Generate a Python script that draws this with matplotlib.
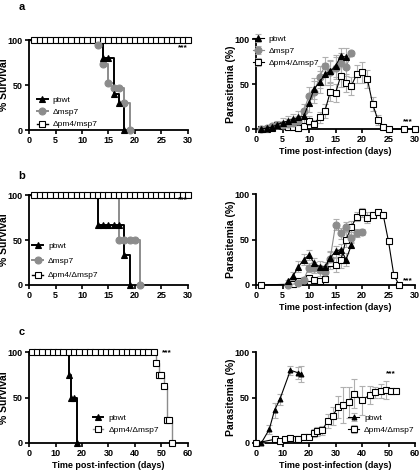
import numpy as np
import matplotlib
matplotlib.use("Agg")
import matplotlib.pyplot as plt

plt.rcParams['font.family'] = ['Liberation Sans', 'DejaVu Sans']
plt.rcParams['font.weight'] = 'bold'
plt.rcParams['axes.labelweight'] = 'bold'

GRAY = '#8c8c8c'
ERR = '#b0b0b0'

# ---- panel a, survival ----
a_pb_t = [0, 14, 16, 17, 18]
a_pb_s = [100, 80, 40, 30, 0]
a_pb_mx = [14, 15, 16, 17, 18]
a_pb_my = [80, 80, 40, 30, 0]
a_ms_t = [0, 13, 14, 15, 16, 18, 19]
a_ms_s = [100, 94, 73, 52, 47, 30, 0]
a_ms_mx = [13, 14, 15, 16, 17, 18, 19]
a_ms_my = [94, 73, 52, 47, 47, 30, 0]
a_dk_mx = list(range(1, 31))
a_dk_my = [100] * 30

# ---- panel a, parasitemia ----
a_pb_d = list(range(1, 18))
a_pb_p = [0, 1, 2, 5, 7, 9, 11, 13, 14, 29, 45, 52, 61, 64, 70, 81, 80]
a_pb_e = [1, 1, 2, 4, 5, 6, 6, 7, 8, 10, 12, 12, 12, 12, 12, 9, 10]
a_ms_d = list(range(1, 19))
a_ms_p = [0, 1, 3, 4, 5, 6, 7, 9, 20, 37, 41, 58, 70, 63, 68, 73, 69, 84]
a_ms_e = [1, 1, 2, 3, 4, 5, 5, 6, 8, 10, 12, 12, 10, 14, 12, 12, 10, 3]
a_dk_d = [1, 2, 3, 4, 5, 6, 7, 8, 9, 10, 11, 12, 13, 14, 15, 16, 17, 18, 19, 20,
          21, 22, 23, 24, 25, 28, 30]
a_dk_p = [0, 0, 1, 5, 3, 2, 2, 1, 3, 9, 6, 13, 20, 41, 40, 59, 51, 48, 61, 63,
          56, 28, 10, 2, 0, 0, 0]
a_dk_e = [0, 1, 1, 3, 3, 2, 2, 2, 3, 5, 4, 6, 8, 10, 10, 12, 10, 10, 10, 12,
          10, 8, 6, 2, 0, 0, 0]

# ---- panel b, survival ----
b_pb_t = [0, 13, 18, 19]
b_pb_s = [100, 67, 33, 0]
b_pb_mx = [13, 14, 15, 16, 17, 18, 19]
b_pb_my = [67, 67, 67, 67, 67, 33, 0]
b_ms_t = [0, 17, 21]
b_ms_s = [100, 50, 0]
b_ms_mx = [17, 18, 19, 20, 21]
b_ms_my = [50, 50, 50, 50, 0]
b_dk_mx = list(range(1, 31))
b_dk_my = [100] * 30

# ---- panel b, parasitemia ----
b_pb_d = [6, 7, 8, 9, 10, 11, 12, 13, 14, 15, 16, 17, 18]
b_pb_p = [4, 10, 20, 28, 33, 24, 20, 20, 30, 37, 39, 28, 44]
b_pb_e = [2, 4, 6, 6, 5, 6, 6, 5, 6, 6, 6, 7, 3]
b_ms_d = [6, 8, 9, 10, 11, 12, 13, 14, 15, 16, 17, 18, 19, 20]
b_ms_p = [0, 2, 6, 19, 19, 16, 14, 29, 66, 57, 64, 52, 57, 58]
b_ms_e = [1, 2, 3, 5, 6, 6, 6, 8, 6, 6, 5, 6, 4, 3]
b_dk_d = [1, 7, 8, 9, 10, 11, 12, 13, 14, 15, 16, 17, 18, 19, 20, 21, 22, 23,
          24, 25, 26, 27]
b_dk_p = [0, 1, 4, 4, 8, 5, 4, 7, 24, 22, 27, 50, 64, 75, 80, 74, 77, 80, 77,
          48, 11, 0]
b_dk_e = [0, 1, 2, 2, 3, 2, 2, 3, 6, 8, 8, 8, 6, 5, 5, 6, 3, 3, 3, 2, 2, 0]

# ---- panel c, survival ----
c_pb_t = [0, 15, 16, 18]
c_pb_s = [100, 75, 50, 0]
c_pb_mx = [15, 16, 17, 18]
c_pb_my = [75, 50, 50, 0]
c_dk_t = [0, 48, 49, 51, 52, 54]
c_dk_s = [100, 88, 75, 63, 25, 0]
c_dk_mx = list(range(1, 48, 2)) + [48, 49, 50, 51, 52, 53, 54]
c_dk_my = [100] * 24 + [88, 75, 75, 63, 25, 25, 0]

# ---- panel c, parasitemia ----
c_pb_d = [2, 5, 7, 9, 13, 16, 17]
c_pb_p = [0, 15, 36, 48, 80, 77, 76]
c_pb_e = [0, 5, 8, 6, 5, 7, 9]
c_dk_d = [0, 7, 9, 11, 13, 15, 16, 18, 20, 22, 23, 25, 27, 29, 31, 33, 35, 37,
          40, 43, 45, 47, 49, 51, 53]
c_dk_p = [0, 4, 2, 4, 6, 4, 4, 7, 7, 11, 13, 14, 24, 30, 40, 42, 45, 54, 47,
          53, 56, 57, 58, 57, 57]
c_dk_e = [0, 1, 1, 2, 2, 2, 2, 3, 3, 4, 5, 5, 8, 10, 12, 20, 17, 16, 16, 10,
          6, 8, 10, 3, 2]


def style_axes(ax, xmax, xstep, ylabel, xlabel=None):
    ax.set_xlim(0, xmax)
    ax.set_ylim(0, 100)
    ax.set_xticks(np.arange(0, xmax + 1, xstep))
    ax.set_yticks([0, 50, 100])
    for s in ['top', 'right']:
        ax.spines[s].set_visible(False)
    for s in ['left', 'bottom']:
        ax.spines[s].set_linewidth(1.3)
    ax.tick_params(direction='out', length=3, width=1.2, labelsize=6.5, pad=1.5)
    for lab in ax.get_xticklabels() + ax.get_yticklabels():
        lab.set_fontweight('bold')
    ax.set_ylabel(ylabel, fontsize=7.5)
    ax.yaxis.set_label_coords(-0.125, 0.5)
    if xlabel:
        ax.set_xlabel(xlabel, fontsize=6.5, labelpad=2)


def surv(ax, t, s, mx, my, color, marker, mfc, label, ms=4.5, lw=1.4):
    mec = 'black' if mfc == 'white' else color
    ax.step(t, s, where='post', color=color, lw=lw, clip_on=False, zorder=2)
    ax.plot(mx, my, ls='none', marker=marker, color=color, mfc=mfc,
            mec=mec, ms=ms, mew=0.8, clip_on=False, zorder=3)
    ax.plot([], [], color=color, lw=lw, marker=marker, mfc=mfc,
            mec=mec, ms=ms, mew=0.8, label=label)


def para(ax, d, p, e, color, marker, mfc, label, ms=4.5):
    mec = 'black' if mfc == 'white' else color
    ax.errorbar(d, p, yerr=e, color=color, lw=0.8, marker=marker,
                mfc=mfc, mec=mec, ms=ms, mew=0.8, ecolor=ERR,
                elinewidth=0.8, capsize=2, capthick=0.8,
                clip_on=False, label=label, zorder=3)


fig = plt.figure(figsize=(4.2, 4.7), dpi=100)
lx, rx, w = 29 / 420, 256 / 420, 159 / 420
ax_al = fig.add_axes([lx, 1 - 130 / 470, w, 90 / 470])
ax_ar = fig.add_axes([rx, 1 - 129 / 470, w, 90 / 470])
ax_bl = fig.add_axes([lx, 1 - 285 / 470, w, 90 / 470])
ax_br = fig.add_axes([rx, 1 - 285 / 470, w, 91 / 470])
ax_cl = fig.add_axes([lx, 1 - 443 / 470, w, 91 / 470])
ax_cr = fig.add_axes([rx, 1 - 443 / 470, w, 91 / 470])

leg_kw = dict(frameon=False, handlelength=1.3, handletextpad=0.6,
              borderaxespad=0, borderpad=0, prop={'weight': 'normal', 'size': 6})
tlabel = 'Time post-infection (days)'

# a left
ax = ax_al
surv(ax, [0, 30], [100, 100], a_dk_mx, a_dk_my, 'black', 's', 'white', u'\u0394pm4/msp7', ms=4, lw=1.0)
surv(ax, a_ms_t, a_ms_s, a_ms_mx, a_ms_my, GRAY, 'o', GRAY, u'\u0394msp7', ms=5)
surv(ax, a_pb_t, a_pb_s, a_pb_mx, a_pb_my, 'black', '^', 'black', 'pbwt')
style_axes(ax, 30, 5, '% Survival')
h, l = ax.get_legend_handles_labels()
ax.legend(h[::-1], l[::-1], loc='upper left', bbox_to_anchor=(0.05, 0.38),
          labelspacing=0.55, **leg_kw)
ax.text(29, 91, '***', fontsize=6, ha='center', va='center')

# a right
ax = ax_ar
para(ax, a_dk_d, a_dk_p, a_dk_e, 'black', 's', 'white', u'\u0394pm4/\u0394msp7', ms=4)
para(ax, a_ms_d, a_ms_p, a_ms_e, GRAY, 'o', GRAY, u'\u0394msp7', ms=5)
para(ax, a_pb_d, a_pb_p, a_pb_e, 'black', '^', 'black', 'pbwt')
style_axes(ax, 30, 5, 'Parasitemia (%)', tlabel)
h, l = ax.get_legend_handles_labels()
ax.legend(h[::-1], l[::-1], loc='upper left', bbox_to_anchor=(-0.02, 1.04),
          labelspacing=0.5, **leg_kw)
ax.text(28.7, 8, '***', fontsize=6, ha='center', va='center')

# b left
ax = ax_bl
surv(ax, [0, 30], [100, 100], b_dk_mx, b_dk_my, 'black', 's', 'white', u'\u0394pm4/\u0394msp7', ms=4, lw=1.0)
surv(ax, b_ms_t, b_ms_s, b_ms_mx, b_ms_my, GRAY, 'o', GRAY, u'\u0394msp7', ms=5)
surv(ax, b_pb_t, b_pb_s, b_pb_mx, b_pb_my, 'black', '^', 'black', 'pbwt')
style_axes(ax, 30, 5, '% Survival')
h, l = ax.get_legend_handles_labels()
ax.legend(h[::-1], l[::-1], loc='upper left', bbox_to_anchor=(0.02, 0.48),
          labelspacing=0.85, **leg_kw)
ax.text(29, 95, '***', fontsize=6, ha='center', va='center')

# b right
ax = ax_br
para(ax, b_dk_d, b_dk_p, b_dk_e, 'black', 's', 'white', u'\u0394pm4/\u0394msp7', ms=4)
para(ax, b_ms_d, b_ms_p, b_ms_e, GRAY, 'o', GRAY, u'\u0394msp7', ms=5)
para(ax, b_pb_d, b_pb_p, b_pb_e, 'black', '^', 'black', 'pbwt')
style_axes(ax, 30, 5, 'Parasitemia (%)', tlabel)
ax.text(28.6, 5, '***', fontsize=6, ha='center', va='center')

# c left
ax = ax_cl
surv(ax, c_dk_t, c_dk_s, c_dk_mx, c_dk_my, GRAY, 's', 'white', u'\u0394pm4/\u0394msp7', ms=4, lw=1.0)
surv(ax, c_pb_t, c_pb_s, c_pb_mx, c_pb_my, 'black', '^', 'black', 'pbwt')
style_axes(ax, 60, 10, '% Survival', tlabel)
h, l = ax.get_legend_handles_labels()
ax.legend(h[::-1], l[::-1], loc='upper left', bbox_to_anchor=(0.4, 0.32),
          labelspacing=0.55, **leg_kw)
ax.text(52, 99, '***', fontsize=6, ha='center', va='center')

# c right
ax = ax_cr
para(ax, c_dk_d, c_dk_p, c_dk_e, 'black', 's', 'white', u'\u0394pm4/\u0394msp7', ms=4)
para(ax, c_pb_d, c_pb_p, c_pb_e, 'black', '^', 'black', 'pbwt', ms=3.5)
style_axes(ax, 60, 10, 'Parasitemia (%)', tlabel)
h, l = ax.get_legend_handles_labels()
ax.legend(h[::-1], l[::-1], loc='upper left', bbox_to_anchor=(0.58, 0.32),
          labelspacing=0.55, **leg_kw)
ax.text(51, 76, '***', fontsize=6, ha='center', va='center')

for lab, y in [('a', 7), ('b', 176), ('c', 332)]:
    fig.text(22 / 420, 1 - y / 470, lab, fontsize=8, fontweight='bold',
             ha='center', va='center')

fig.savefig('out.png', dpi=100)
